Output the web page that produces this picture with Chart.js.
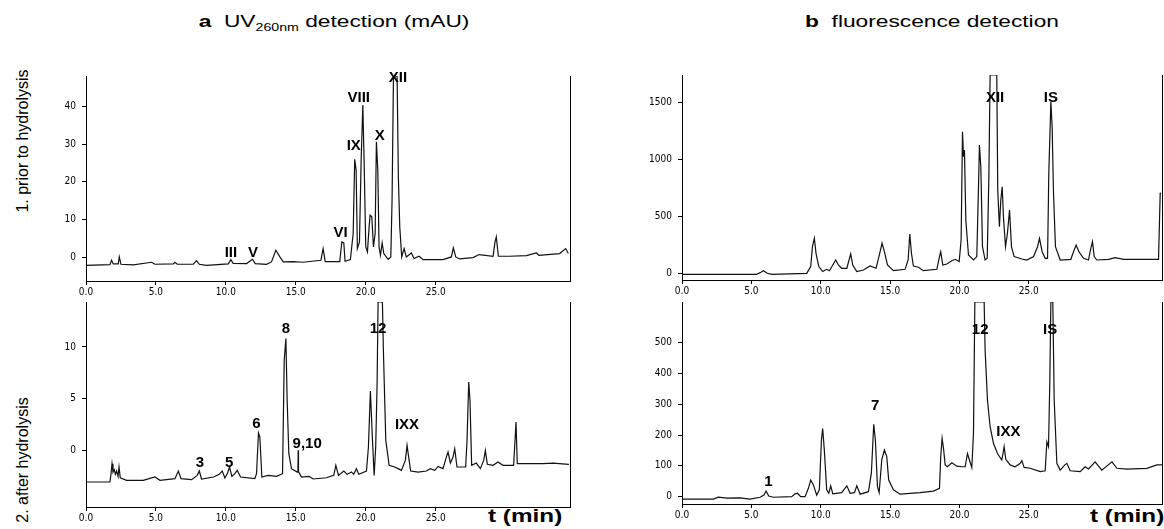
<!DOCTYPE html>
<html>
<head>
<meta charset="utf-8">
<script src="https://cdn.jsdelivr.net/npm/chart.js@4/dist/chart.umd.min.js"></script>
<style>
  body { margin: 0; background: #fff; }
  #page { position: relative; width: 1164px; height: 529px; overflow: hidden; font-family: "Liberation Sans", Arial, sans-serif; color: #000; }
  canvas { position: absolute; }
  .title { position: absolute; top: 13px; font-size: 16px; white-space: nowrap; transform: translateX(-50%) scaleX(1.42); }
  .title sub { font-size: 10px; }
  .row { position: absolute; font-size: 16px; white-space: nowrap; transform: translate(-50%, -50%) rotate(-90deg); }
  .tmin { position: absolute; top: 506px; font-size: 18px; font-weight: bold; white-space: nowrap; transform: scaleX(1.35); transform-origin: left top; }
</style>
</head>
<body>
<div id="page">
  <div class="title" style="left:334px"><b>a</b>&nbsp; UV<sub>260nm</sub> detection (mAU)</div>
  <div class="title" style="left:932px"><b>b</b>&nbsp; fluorescence detection</div>
  <div class="row" style="left:23px; top:141px">1. prior to hydrolysis</div>
  <div class="row" style="left:23px; top:460px">2. after hydrolysis</div>
  <div class="tmin" style="left:488px">t (min)</div>
  <div class="tmin" style="left:1090px">t (min)</div>

  <!-- each canvas has 12px of top padding so peak names above the frame stay visible -->
  <canvas id="uvPrior" width="532" height="239" style="left:40px; top:64px"></canvas>
  <canvas id="uvAfter" width="532" height="239" style="left:40px; top:290px"></canvas>
  <canvas id="flPrior" width="528" height="239" style="left:636px; top:63px"></canvas>
  <canvas id="flAfter" width="528" height="236" style="left:636px; top:290px"></canvas>
</div>

<script>
// time axis (min), same for all four chromatograms
var timeTicks = [0, 5, 10, 15, 20, 25];

// a1: UV 260 nm, prior to hydrolysis
var uvPriorTime = [0.00, 1.71, 1.83, 1.95, 2.31, 2.38, 2.50, 3.38, 4.69, 4.93, 6.24, 6.36, 6.52, 7.67, 7.90, 8.10, 8.62,
  10.17, 10.36, 10.52, 11.48, 11.90, 12.10, 12.90, 13.26, 13.57, 13.86, 14.10, 14.81, 15.52, 16.79, 16.95, 17.10,
  18.14, 18.29, 18.43, 18.52, 18.90, 19.10, 19.21, 19.31, 19.40, 19.55, 19.67, 19.79, 19.88, 20.00, 20.12, 20.24,
  20.31, 20.43, 20.55, 20.67, 20.76, 20.86, 20.95, 21.05, 21.17, 21.29, 21.60, 21.79, 21.88, 21.98, 22.24, 22.33,
  22.43, 22.57, 22.74, 22.90, 23.26, 23.45, 23.81, 24.10, 25.52, 26.12, 26.26, 26.43, 26.71, 27.67, 28.10, 29.10,
  29.24, 29.33, 29.48, 30.29, 31.48, 32.19, 32.38, 33.86, 34.29, 34.48];
var uvPriorSignal = [-2.13, -1.95, -0.80, -1.77, -1.77, 0.09, -1.86, -2.04, -1.33, -1.86, -1.77, -1.33, -1.86, -1.86, -0.89, -1.86, -2.13,
  -1.77, -0.62, -1.60, -1.68, -0.53, -1.68, -1.86, -1.24, 1.86, 0.09, -1.24, -1.15, -1.33, -0.80, 2.30, -1.15,
  -1.15, 4.08, 3.81, -1.06, -0.62, 6.29, 25.98, 23.14, 2.30, 4.08, 25.80, 40.43, 25.80, 2.75, 1.42, 8.07,
  11.17, 10.73, 2.75, 6.29, 30.67, 23.14, 2.75, 0.53, 3.81, 0.98, -0.53, 0.09, 15.16, 48.1, 48.1, 21.37,
  8.07, 0.09, 2.30, 0.09, 1.15, -0.35, 0.27, -0.62, -0.62, 0.09, 2.48, 0.09, -0.44, -0.09, 0.71, 0.27,
  4.08, 5.41, 0.27, 0.27, 0.44, 1.15, 0.53, 0.98, 2.30, 0.98];
var uvPriorTicks = [0, 10, 20, 30, 40];
var uvPriorPeaks = ['III', 'V', 'VI', 'IX', 'VIII', 'X', 'XII'];
var uvPriorPeakTime = [10.36, 11.93, 18.2, 19.14, 19.5, 21.0, 22.3];
var uvPriorPeakSignal = [1.3, 1.3, 6.6, 29.5, 42.3, 32.2, 47.6];

// a2: UV 260 nm, after hydrolysis
var uvAfterTime = [0.00, 1.71, 1.79, 1.86, 1.93, 2.02, 2.10, 2.19, 2.29, 2.36, 2.45, 2.90, 4.10, 4.57, 4.93, 5.29, 6.36,
  6.60, 6.79, 7.55, 7.95, 8.10, 8.26, 9.12, 9.52, 9.74, 9.93, 10.12, 10.26, 10.43, 10.64, 10.81, 11.05, 12.07, 12.19,
  12.33, 12.43, 12.57, 13.02, 13.62, 14.05, 14.17, 14.29, 14.38, 14.50, 14.69, 15.10, 15.15, 15.17, 15.19, 15.40,
  15.95, 16.24, 17.19, 17.71, 17.86, 18.05, 18.43, 18.67, 18.98, 19.14, 19.33, 19.50, 20.05, 20.19, 20.33, 20.48,
  20.60, 20.71, 20.81, 20.88, 21.19, 21.26, 21.43, 21.67, 22.07, 22.31, 22.55, 22.83, 22.95, 23.10, 23.21, 23.74,
  24.33, 24.62, 24.93, 25.17, 25.52, 25.76, 25.88, 26.05, 26.24, 26.36, 26.52, 27.14, 27.24, 27.36, 27.45, 27.57,
  27.90, 28.19, 28.43, 28.55, 28.69, 29.10, 29.45, 29.81, 30.57, 30.67, 30.74, 30.83, 31.48, 32.67, 33.38, 34.52];
var uvAfterSignal = [-3.06, -3.06, -2.26, -1.29, -2.10, -1.87, -2.32, -2.00, -2.52, -1.61, -2.65, -2.90, -2.90, -2.71, -2.58, -2.90, -2.74,
  -2.00, -2.74, -2.84, -2.42, -2.00, -2.77, -2.58, -2.32, -2.00, -2.68, -2.19, -1.61, -2.52, -2.26, -1.94, -2.58, -2.74, -2.26,
  1.68, 1.29, -2.58, -2.42, -2.52, -2.26, 8.71, 10.81, 4.84, -0.32, -1.77, -2.10, -2.03, 0.00, -2.06, -2.58,
  -2.52, -2.77, -2.65, -2.42, -1.45, -2.42, -2.00, -2.32, -2.10, -2.32, -1.77, -2.32, -2.00, 0.32, 5.74, 0.97,
  -2.42, 0.32, 6.45, 14.35, 14.35, 9.68, 0.97, -1.45, -1.61, -1.77, -1.94, -0.97, 0.48, -0.97, -2.00, -2.10,
  -2.00, -1.77, -1.94, -1.55, -1.77, -0.65, -0.16, -1.23, -0.65, 0.16, -1.61, -1.61, 0.97, 6.61, 4.84, -1.45,
  -1.23, -1.77, -0.97, 0.00, -1.35, -1.45, -1.13, -1.45, -1.45, 0.97, 2.74, -1.29, -1.29, -1.29, -1.23, -1.35];
var uvAfterTicks = [0, 5, 10];
var uvAfterPeaks = ['3', '5', '6', '8', '9,10', '12', 'IXX'];
var uvAfterPeakTime = [8.14, 10.24, 12.19, 14.29, 15.81, 20.88, 22.95];
var uvAfterPeakSignal = [-1.19, -1.19, 2.58, 11.77, 0.58, 11.77, 2.42];

// b1: fluorescence, prior to hydrolysis
var flPriorTime = [0.00, 5.38, 5.72, 5.87, 6.15, 6.47, 8.99, 9.28, 9.40, 9.54, 9.66, 9.86, 10.14, 10.43, 10.63, 10.91,
  11.08, 11.27, 11.51, 11.88, 12.04, 12.16, 12.31, 12.60, 13.08, 13.56, 13.99, 14.28, 14.42, 14.59, 14.81, 15.24,
  16.08, 16.30, 16.42, 16.54, 16.68, 17.04, 17.40, 18.37, 18.56, 18.65, 18.80, 19.09, 19.45, 19.69, 19.98, 20.12,
  20.22, 20.29, 20.36, 20.46, 20.65, 21.01, 21.25, 21.35, 21.44, 21.54, 21.66, 21.85, 22.00, 22.12, 22.21, 22.69,
  22.76, 22.88, 22.98, 23.08, 23.17, 23.32, 23.46, 23.61, 23.75, 23.94, 24.50, 24.86, 25.34, 25.63, 25.77, 25.96,
  26.18, 26.35, 26.44, 26.59, 26.68, 26.78, 26.92, 27.26, 28.03, 28.22, 28.41, 28.61, 28.94, 29.30, 29.47, 29.59,
  29.71, 29.90, 30.75, 31.23, 31.83, 33.27, 34.35, 34.47, 34.54];
var flPriorSignal = [-9, -9, 12, 23, 0, -9, 0, 59, 234, 308, 176, 59, 15, 35, 23, 82,
  117, 73, 44, 44, 117, 170, 73, 15, 29, 64, 44, 190, 264, 190, 73, 23,
  35, 117, 346, 176, 64, 53, 23, 35, 147, 190, 73, 82, 111, 123, 103, 293,
  1245, 1026, 1084, 469, 161, 117, 147, 645, 1128, 938, 234, 117, 132, 850, 1745, 1745,
  733, 410, 645, 762, 498, 234, 352, 557, 234, 147, 126, 117, 147, 234, 308, 190,
  132, 132, 879, 1509, 1289, 703, 234, 117, 123, 190, 249, 190, 132, 117, 220, 278,
  147, 117, 123, 138, 123, 123, 123, 703, 703];
var flPriorTicks = [0, 500, 1000, 1500];
var flPriorPeaks = ['XII', 'IS'];
var flPriorPeakTime = [22.57, 26.59];
var flPriorPeakSignal = [1547, 1547];

// b2: fluorescence, after hydrolysis
var flAfterTime = [0.00, 2.26, 2.62, 3.22, 4.18, 4.90, 5.63, 5.91, 6.06, 6.25, 6.59, 7.91, 8.15, 8.32, 8.56, 8.87,
  9.11, 9.28, 9.47, 9.71, 9.90, 10.05, 10.14, 10.26, 10.43, 10.58, 10.72, 10.87, 11.51, 11.88, 12.12, 12.43,
  12.60, 12.84, 13.44, 13.65, 13.82, 13.94, 14.09, 14.21, 14.40, 14.59, 14.76, 14.90, 15.24, 15.72, 17.16, 18.13,
  18.56, 18.65, 18.75, 18.85, 18.97, 19.13, 19.45, 19.81, 20.17, 20.41, 20.58, 20.72, 20.89, 21.01, 21.11, 21.78,
  21.85, 22.02, 22.21, 22.45, 22.74, 23.05, 23.14, 23.22, 23.34, 23.65, 24.01, 24.38, 24.50, 24.66, 25.10, 25.82,
  26.18, 26.30, 26.42, 26.51, 26.59, 26.73, 26.83, 27.02, 27.26, 27.60, 27.74, 27.98, 28.70, 29.06, 29.30, 29.78,
  30.26, 30.99, 31.35, 32.07, 33.51, 34.23, 34.59];
var flAfterSignal = [-8, -8, -2, -5, -4, -8, -2, 5, 18, 2, -2, 0, 9, 11, 0, 0,
  27, 54, 38, 5, 22, 184, 221, 151, 22, 11, 35, 9, 13, 35, 11, 13,
  35, 8, 16, 76, 235, 184, 32, 13, 119, 151, 130, 54, 22, 8, 13, 18,
  27, 130, 189, 157, 103, 97, 110, 99, 97, 97, 140, 119, 94, 205, 632, 632,
  475, 313, 227, 173, 140, 119, 140, 162, 121, 103, 97, 108, 117, 95, 92, 81,
  84, 178, 162, 367, 632, 632, 313, 108, 86, 103, 108, 84, 81, 97, 90, 113,
  86, 113, 92, 89, 92, 103, 103];
var flAfterTicks = [0, 100, 200, 300, 400, 500];
var flAfterPeaks = ['1', '7', '12', 'IXX', 'IS'];
var flAfterPeakTime = [6.23, 13.92, 21.49, 23.53, 26.54];
var flAfterPeakSignal = [49, 294, 542, 211, 542];

var tickFont = { family: "'Liberation Sans Narrow', 'DejaVu Sans Condensed', sans-serif", size: 10 };

// peak names + right frame line
var peakLabels = {
    id: 'peakLabels',
    afterDatasetsDraw: function(chart, args, opts) {
        var ctx = chart.ctx;
        var area = chart.chartArea;
        ctx.save();
        ctx.strokeStyle = '#000';
        ctx.lineWidth = 1;
        ctx.beginPath();
        ctx.moveTo(area.right + 0.5, area.top);
        ctx.lineTo(area.right + 0.5, area.bottom);
        ctx.stroke();

        ctx.font = 'bold 15px "Liberation Sans", Arial, sans-serif';
        ctx.fillStyle = '#000';
        ctx.textAlign = 'center';
        ctx.textBaseline = 'middle';
        opts.names.forEach(function(name, i) {
            var x = chart.scales.x.getPixelForValue(opts.time[i]);
            var y = chart.scales.y.getPixelForValue(opts.signal[i]);
            ctx.fillText(name, x, y);
        });
        ctx.restore();
    }
};

function makeChart(id, time, signal, yMin, yMax, yTicks, names, peakTime, peakSignal) {
    var points = time.map(function(t, i) {
        return { x: t, y: signal[i] };
    });

    return new Chart(document.getElementById(id), {
        type: 'line',
        data: {
            datasets: [{
                data: points,
                borderColor: '#111',
                borderWidth: 1.2,
                pointRadius: 0,
                tension: 0
            }]
        },
        options: {
            responsive: false,
            animation: false,
            layout: { padding: { top: 12, right: 2, bottom: 0, left: 0 } },
            plugins: {
                legend: { display: false },
                tooltip: { enabled: false },
                peakLabels: { names: names, time: peakTime, signal: peakSignal }
            },
            scales: {
                x: {
                    type: 'linear',
                    min: 0,
                    max: 34.6,
                    afterBuildTicks: function(s) { s.ticks = timeTicks.map(function(v) { return { value: v }; }); },
                    afterFit: function(s) {
                        s.height = 22;
                        s.paddingLeft = 0;
                        s.paddingRight = 0;
                    },
                    grid: { drawOnChartArea: false, tickLength: 4, color: '#000' },
                    border: { color: '#000', width: 1 },
                    ticks: {
                        color: '#000',
                        font: tickFont,
                        padding: 1,
                        maxRotation: 0,
                        autoSkip: false,
                        callback: function(v) { return v.toFixed(1); }
                    }
                },
                y: {
                    min: yMin,
                    max: yMax,
                    afterBuildTicks: function(s) { s.ticks = yTicks.map(function(v) { return { value: v }; }); },
                    afterFit: function(s) {
                        s.width = 46;
                        s.paddingTop = 0;
                        s.paddingBottom = 0;
                    },
                    grid: { drawOnChartArea: false, tickLength: 4, color: '#000' },
                    border: { color: '#000', width: 1 },
                    ticks: {
                        color: '#000',
                        font: tickFont,
                        padding: 6,
                        callback: function(v) { return String(v); }
                    }
                }
            }
        },
        plugins: [peakLabels]
    });
}

makeChart('uvPrior', uvPriorTime, uvPriorSignal, -6.3, 48.1, uvPriorTicks, uvPriorPeaks, uvPriorPeakTime, uvPriorPeakSignal);
makeChart('uvAfter', uvAfterTime, uvAfterSignal, -5.48, 14.35, uvAfterTicks, uvAfterPeaks, uvAfterPeakTime, uvAfterPeakSignal);
makeChart('flPrior', flPriorTime, flPriorSignal, -59, 1745, flPriorTicks, flPriorPeaks, flPriorPeakTime, flPriorPeakSignal);
makeChart('flAfter', flAfterTime, flAfterSignal, -24, 632, flAfterTicks, flAfterPeaks, flAfterPeakTime, flAfterPeakSignal);
</script>
</body>
</html>
